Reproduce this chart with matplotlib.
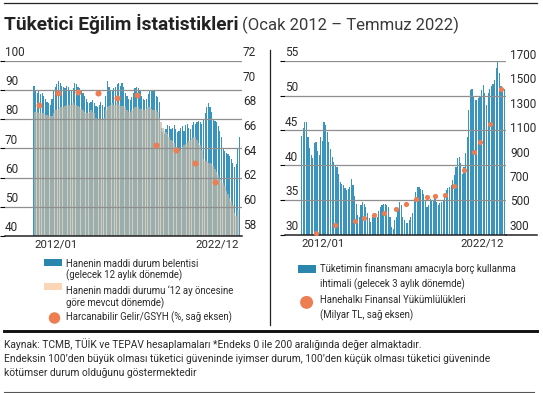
import numpy as np
import matplotlib
matplotlib.use('Agg')
import matplotlib.pyplot as plt
from matplotlib.patches import Rectangle, Ellipse
from matplotlib.lines import Line2D

# aylik veriler, 2012/01 - 2022/07
beklenti = [91.5, 90, 89, 89.5, 88.5, 89, 88, 87, 86, 85.5, 85, 87,
            89.5, 91, 92, 93, 92.5, 91.5, 91, 90.5, 91.5, 91, 90, 89.5,
            90.5, 92.5, 92, 91, 90.5, 90, 89, 88, 87, 86, 85.5, 86,
            86.5, 85.5, 84.5, 84, 85, 86, 85, 84, 88, 93, 91, 90,
            89.5, 90.5, 91, 92, 92.5, 91.5, 92.5, 91, 89, 88, 87, 86.5,
            87.5, 89, 90.5, 91, 90.5, 89.5, 88, 87, 86.5, 87, 88.5, 90,
            89.5, 90, 89.5, 88, 87.5, 86, 77, 75.5, 75, 76.5, 78, 77.5,
            76.5, 77, 78, 76.5, 75.5, 76, 77, 77.5, 76, 78, 78.5, 77,
            76.5, 78, 79, 78.5, 79, 79.5, 79, 78.5, 80, 82, 84, 85.5,
            84, 82.5, 80, 79.5, 79, 77.5, 76, 74, 70, 69, 68.5, 68,
            67.5, 66.5, 65, 63.5, 64.5, 70, 74]
mevcut = [82.5, 82.5, 82.5, 82, 82, 82, 82, 81.5, 81.5, 81, 81, 81,
          82, 83, 83, 83.5, 84, 84, 84, 84.5, 85, 85, 85, 85,
          85.5, 85, 85, 84.5, 84, 83.5, 83, 82.5, 82, 82, 82.5, 83,
          82.5, 82, 80.5, 80, 80, 80, 80, 80.5, 83, 84, 84.5, 85,
          85.5, 85, 85, 85.5, 85, 84.5, 84.5, 84.5, 84, 83, 82.5, 82.5,
          83, 83.5, 84, 84, 84, 83.5, 83.5, 83, 83, 83.5, 84, 84,
          83.5, 83, 83, 83, 82.5, 80.5, 79, 77, 76, 75.5, 75, 74,
          73, 72.5, 72, 70.5, 69.5, 69, 69.5, 70.5, 71, 71.5, 72, 72.5,
          73, 73.5, 74, 74, 73, 72, 71, 69.5, 66.5, 65.5, 65.5, 65,
          65, 64.5, 64, 63, 62, 61, 60, 59, 58, 57, 55.5, 54.5,
          53, 52, 50.5, 48, 47, 49, 52]
gelir_x = [3, 15, 27, 39, 51, 63, 75, 87, 99, 111]
gelir = [68.4, 69.4, 69.5, 69.4, 69.0, 69.2, 65.2, 64.8, 63.7, 62.2]

borc = [44.2, 45.3, 46.2, 46.2, 44, 42.5, 41.5, 41, 43.2, 43.3, 42, 41.5,
        44, 43.5, 46.2, 45.8, 44.8, 43.4, 42.4, 41.2, 40.5, 40, 39.7, 38.8,
        37.6, 37.3, 37.1, 36.7, 36.4, 36.6, 36.9, 38, 37.2, 35.6, 34.5, 32.8,
        32.6, 34.3, 34.8, 34.5, 34, 33.2, 32.4, 31.9, 32.6, 32.8, 33, 32.6,
        33.5, 34, 34.3, 34.5, 34.5, 34.3, 34, 32.6, 31.2, 30.9, 32.1, 32.6,
        33.6, 34.8, 34.3, 32.6, 32.1, 31.7, 31.7, 32.1, 32.6, 33.1, 35, 36.2,
        36.9, 36.9, 36.6, 36.4, 35.9, 35, 34, 34.3, 35.2, 35, 35, 35.5,
        34.8, 34.3, 34.6, 34.8, 34.9, 35.5, 36.4, 36.7, 36.9, 37.2, 37.9, 38.6,
        39.8, 41, 41.2, 40.3, 38.8, 39.8, 41.7, 44.1, 47.9, 50.8, 51, 49.8,
        49.4, 49.4, 49.6, 50, 50.8, 51.5, 50.3, 48.6, 50.3, 51, 51.3, 51.7,
        52.2, 53.9, 54.9, 53.2, 51.3, 51, 51]
yukum_x = [9, 21, 33, 39, 45, 51, 59, 65, 71, 78, 83, 89, 95, 101, 107, 111, 117, 124]
yukum = [303, 369, 407, 431, 453, 467, 500, 544, 585, 604, 612, 617, 694, 820,
         968, 1052, 1202, 1485]

tick_labels = ['2012/01', '2022/12']

BLUE = '#3a95be'
BEIGE = '#c2b9a6'
ORANGE = '#ee7d52'
GRID = '#8f8f8f'
TXT = '#2b2b2b'
BODY = ['Roboto', 'DejaVu Sans']
NARROW = ['Liberation Sans Narrow', 'Roboto', 'DejaVu Sans']

W, H = 543, 393
fig = plt.figure(figsize=(W / 100, H / 100), dpi=100)


def fx(x):
    return x / W


def fy(y):
    return 1 - y / H


def axes_px(x0, y0, x1, y1):
    return fig.add_axes([fx(x0), fy(y1), fx(x1) - fx(x0), fy(y0) - fy(y1)])


def style(ax):
    for s in ['top', 'left', 'right']:
        ax.spines[s].set_visible(False)
    ax.spines['bottom'].set_color('#222222')
    ax.spines['bottom'].set_linewidth(1.1)
    ax.tick_params(axis='y', left=False, right=False, labelleft=False, labelright=False)
    ax.tick_params(axis='x', length=0, pad=2.5, labelsize=8.2, labelcolor=TXT)
    ax.patch.set_alpha(0)


# --- sol grafik ---
ax1 = axes_px(5, 60.7, 242, 236)
m1 = np.arange(len(beklenti))
ax1.bar(m1, beklenti, width=0.72, color=BLUE, linewidth=0, zorder=1)
ax1.fill_between(m1, 40, mevcut, step='mid', color=BEIGE, alpha=0.7, lw=0, zorder=2)
for v in range(50, 101, 10):
    ax1.axhline(v, color=GRID, lw=0.9, zorder=3)
ax1.set_ylim(40, 100)
ax1.set_xlim(-17.8, 127.6)
style(ax1)
ax1.set_xticks([m1[0], m1[-1]])
ax1.set_xticklabels(tick_labels, family=BODY)
ax1.get_xticklabels()[0].set_ha('left')
ax1.get_xticklabels()[1].set_ha('right')
for v in range(40, 101, 10):
    ax1.text(0, v + 0.6, str(v), transform=ax1.get_yaxis_transform(), ha='left',
             va='bottom', fontsize=8.5, color=TXT, family=BODY)

ax1r = ax1.twinx()
ax1r.scatter(gelir_x, gelir, s=19, color=ORANGE, zorder=5, linewidths=0)
ax1r.set_ylim(57.8, 72)
style(ax1r)
ax1r.spines['bottom'].set_visible(False)
for v in range(58, 73, 2):
    ax1r.text(1.004, v + 0.15, str(v), transform=ax1r.get_yaxis_transform(), ha='left',
              va='bottom', fontsize=8.5, color=TXT, family=BODY)

# --- sag grafik ---
ax2 = axes_px(285, 60.7, 505.8, 235)
m2 = np.arange(len(borc))
ax2.bar(m2, borc, width=0.72, color=BLUE, linewidth=0, zorder=1)
for v in range(35, 56, 5):
    ax2.axhline(v, color=GRID, lw=0.9, zorder=3)
ax2.set_ylim(30, 55)
ax2.set_xlim(-10.3, 127)
style(ax2)
ax2.plot([1, (537 - 285) / (505.8 - 285)], [0, 0], transform=ax2.transAxes,
         clip_on=False, color='#222222', lw=1.1)
ax2.set_xticks([m2[0], m2[-1]])
ax2.set_xticklabels(tick_labels, family=BODY)
ax2.get_xticklabels()[0].set_ha('left')
ax2.get_xticklabels()[1].set_ha('right')
for v in range(30, 56, 5):
    ax2.text(0, v + 0.25, str(v), transform=ax2.get_yaxis_transform(), ha='left',
             va='bottom', fontsize=8.5, color=TXT, family=BODY)

ax2r = ax2.twinx()
ax2r.scatter(yukum_x, yukum, s=14, color=ORANGE, zorder=5, linewidths=0)
ax2r.set_ylim(289, 1719)
style(ax2r)
ax2r.spines['bottom'].set_visible(False)
for v in range(300, 1701, 200):
    ax2r.text(1.019, v + 8, str(v), transform=ax2r.get_yaxis_transform(), ha='left',
              va='bottom', fontsize=8.5, color=TXT, family=BODY)

# --- baslik ve cizgiler ---
fig.add_artist(Line2D([fx(4), fx(537)], [fy(3.3), fy(3.3)], color='#222222', lw=0.9))
title = fig.text(fx(4), fy(30.5), 'Tüketici Eğilim İstatistikleri', fontsize=13.8,
                 fontweight='bold', color='#222222', family=NARROW, va='baseline')
fig.canvas.draw()
bb = title.get_window_extent()
fig.text(bb.x1 / W + fx(4), fy(30.5), '(Ocak 2012 – Temmuz 2022)', fontsize=12,
         color='#3a3a3a', family=NARROW, va='baseline')

fig.add_artist(Line2D([fx(270), fx(270)], [fy(50), fy(325)], color='#222222', lw=0.9))

# --- lejantlar ---
leg_font = dict(fontsize=6.9, color=TXT, family=BODY, va='center')
fig.add_artist(Rectangle((fx(44.4), fy(266.2)), fx(18), 7 / H, color='#2a86ad', lw=0))
fig.text(fx(66), fy(263.6), 'Hanenin maddi durum belentisi', **leg_font)
fig.text(fx(66), fy(275.7), '(gelecek 12 aylık dönemde)', **leg_font)
fig.add_artist(Rectangle((fx(44.4), fy(290.2)), fx(18), 7 / H, color='#fbd6b6', lw=0))
fig.text(fx(66), fy(290.2), 'Hanenin maddi durumu ‘12 ay öncesine', **leg_font)
fig.text(fx(66), fy(303.4), 'göre mevcut dönemde)', **leg_font)
fig.add_artist(Ellipse((fx(54.5), fy(318)), fx(11.5), 11.5 / H, color=ORANGE, lw=0))
fig.text(fx(66), fy(316.9), 'Harcanabilir Gelir/GSYH (%, sağ eksen)', **leg_font)

fig.add_artist(Rectangle((fx(298), fy(273)), fx(18), 8.5 / H, color='#2a86ad', lw=0))
fig.text(fx(320.5), fy(268.4), 'Tüketimin finansmanı amacıyla borç kullanma', **leg_font)
fig.text(fx(320.5), fy(284.4), 'ihtimali (gelecek 3 aylık dönemde)', **leg_font)
fig.add_artist(Ellipse((fx(306.6), fy(302.4)), fx(13), 13 / H, color=ORANGE, lw=0))
fig.text(fx(320.5), fy(299.6), 'Hanehalkı Finansal Yükümlülükleri', **leg_font)
fig.text(fx(320.5), fy(315.5), '(Milyar TL, sağ eksen)', **leg_font)

# --- kaynak ---
fig.add_artist(Line2D([fx(3.5), fx(537)], [fy(330.8), fy(330.8)], color='#111111', lw=2.1))
foot = dict(fontsize=7.4, color=TXT, family=BODY, va='center')
fig.text(fx(4), fy(344), 'Kaynak: TCMB, TÜİK ve TEPAV hesaplamaları *Endeks 0 ile 200 '
         'aralığında değer almaktadır.', **foot)
fig.text(fx(4), fy(359.5), 'Endeksin 100’den büyük olması tüketici güveninde iyimser durum, '
         '100’den küçük olması tüketici güveninde', **foot)
fig.text(fx(4), fy(373.4), 'kötümser durum olduğunu göstermektedir', **foot)
fig.add_artist(Line2D([fx(3.5), fx(534)], [fy(392.3), fy(392.3)], color='#555555', lw=0.8))

fig.savefig('out.png', dpi=100)
